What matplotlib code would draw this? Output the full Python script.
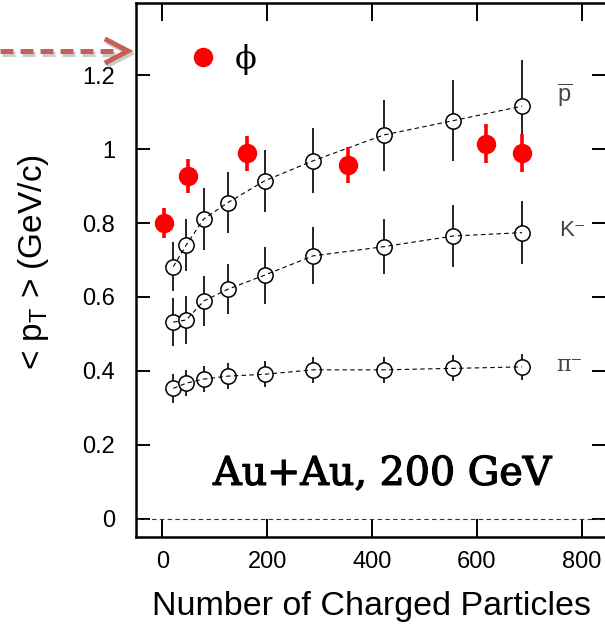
import matplotlib
matplotlib.use('Agg')
import matplotlib.pyplot as plt
from matplotlib.lines import Line2D
import matplotlib.patheffects as pe

plt.rcParams['font.family'] = ['Liberation Sans', 'DejaVu Sans']
plt.rcParams['mathtext.fontset'] = 'custom'
plt.rcParams['mathtext.rm'] = 'Liberation Sans'
plt.rcParams['mathtext.it'] = 'Liberation Sans:italic'

# <pT> vs number of charged particles, Au+Au 200 GeV
npart = [21, 46, 79, 125, 195, 287, 422, 555, 686]
pi_pt = [0.353, 0.367, 0.378, 0.386, 0.391, 0.403, 0.403, 0.407, 0.411]
pi_err = [0.04, 0.035, 0.035, 0.035, 0.035, 0.035, 0.035, 0.035, 0.035]
k_pt = [0.532, 0.538, 0.589, 0.621, 0.659, 0.711, 0.736, 0.765, 0.774]
k_err = [0.065, 0.066, 0.067, 0.068, 0.077, 0.077, 0.074, 0.083, 0.085]
pbar_pt = [0.682, 0.741, 0.811, 0.855, 0.914, 0.968, 1.038, 1.077, 1.116]
pbar_err = [0.066, 0.07, 0.083, 0.082, 0.084, 0.088, 0.096, 0.11, 0.125]

phi_n = [3, 49, 161, 354, 618, 685]
phi_pt = [0.80, 0.927, 0.989, 0.957, 1.015, 0.99]
phi_err = [0.04, 0.046, 0.047, 0.048, 0.052, 0.052]

W, H = 605, 627
fig = plt.figure(figsize=(W / 100, H / 100), dpi=100)
ax = fig.add_axes([136 / W, (H - 537) / H, 470 / W, 534 / H])

for y, e in [(pi_pt, pi_err), (k_pt, k_err), (pbar_pt, pbar_err)]:
    ax.errorbar(npart, y, yerr=e, fmt='none', ecolor='#222222', elinewidth=1.4, zorder=2)
    ax.plot(npart, y, 'o', ms=11, mfc='white', mec='black', mew=1.1, zorder=3)
    ax.plot(npart, y, '--', color='black', lw=0.8, dashes=(4, 3), zorder=4)

ax.errorbar(phi_n, phi_pt, yerr=phi_err, fmt='o', ms=13, color='#ff0000',
            elinewidth=2.6, zorder=5)

# legend-ish entries
ax.plot([78], [1.249], 'o', ms=13, color='#ff0000', clip_on=False)
ax.text(160, 1.242, '\u03d5', family='DejaVu Serif', fontsize=23,
        ha='center', va='center')

ax.text(752, 1.145, r'$\overline{\mathrm{p}}$', fontsize=17, color='#444444',
        ha='left', va='center')
ax.text(756, 0.78, 'K\u207b', fontsize=16, color='#444444', ha='left', va='center')
ax.text(752, 0.415, '\u03c0\u207b', family=['DejaVu Serif'], fontsize=16,
        color='#444444', ha='left', va='center')

ax.text(420, 0.092, 'Au+Au, 200 GeV', family='DejaVu Serif', fontsize=28.5,
        ha='center', va='baseline',
        path_effects=[pe.withStroke(linewidth=0.9, foreground='black')])

ax.axhline(0, color='#333333', lw=0.8, ls='--', dashes=(4, 3))

ax.set_xlim(-50, 846)
ax.set_ylim(-0.049, 1.395)
ax.set_xticks([0, 200, 400, 600, 800])
ax.set_yticks([0, 0.2, 0.4, 0.6, 0.8, 1.0, 1.2])
ax.set_yticklabels(['0', '0.2', '0.4', '0.6', '0.8', '1', '1.2'])
ax.tick_params(axis='both', direction='in', top=True, right=True, width=1.4,
               labelsize=17, colors='black')
ax.tick_params(axis='x', length=13, pad=10)
ax.tick_params(axis='y', length=10, pad=15)
for s in ax.spines.values():
    s.set_linewidth(1.8)

ax.set_xlabel('Number of Charged Particles', fontsize=24.5, labelpad=13)
ax.set_ylabel(r'< p$_{\rm T}$ > (GeV/c)', fontsize=24)
ax.yaxis.set_label_coords(-0.18, 0.515)

# red dashed arrow pointing at the phi entry
shadow = [pe.SimpleLineShadow(offset=(1.5, -2), shadow_color='gray', alpha=0.4), pe.Normal()]
fig.add_artist(Line2D([0 / W, 118 / W], [1 - 51 / H, 1 - 51 / H], lw=3.6,
                      color='#c8605a', ls=(0, (2.6, 1.4)), path_effects=shadow))
fig.add_artist(Line2D([107 / W, 128 / W, 107 / W], [1 - 40 / H, 1 - 51 / H, 1 - 62 / H],
                      lw=3.6, color='#c8605a', solid_joinstyle='miter', path_effects=shadow))

fig.savefig('out.png', dpi=100)
